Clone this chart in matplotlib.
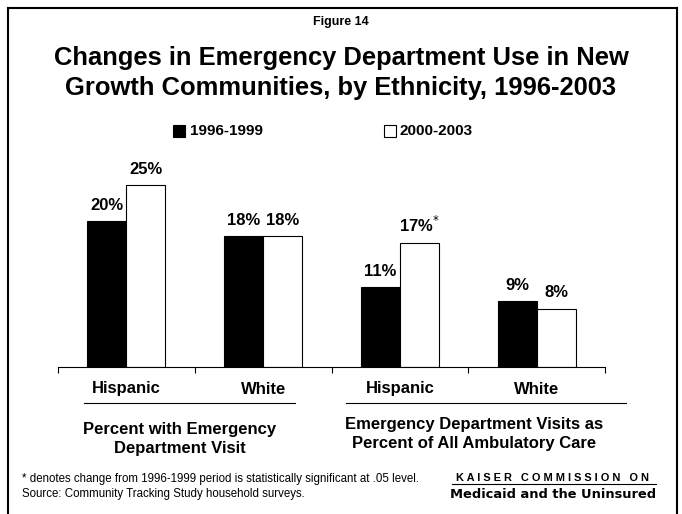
"""Emergency department use by ethnicity, Kaiser figure 14."""

import numpy as np
import matplotlib
matplotlib.use("Agg")
import matplotlib.pyplot as plt
from matplotlib.lines import Line2D
from matplotlib.patches import Rectangle

plt.rcParams["font.family"] = ["Liberation Sans", "DejaVu Sans"]

categories = ["Hispanic", "White", "Hispanic", "White"]
period_1 = [20, 18, 11, 9]
period_2 = [25, 18, 17, 8]
period_2_marks = ["", "", "*", ""]
series_names = ["1996-1999", "2000-2003"]
group_names = ["Percent with Emergency\nDepartment Visit",
               "Emergency Department Visits as\nPercent of All Ambulatory Care"]

W, H = 682, 514
fig = plt.figure(figsize=(W / 100, H / 100), dpi=100)


def fx(px):
    return px / W


def fy(py):
    return 1 - py / H


# slide frame
fig.add_artist(Line2D([fx(8), fx(8)], [fy(8), 0], color="black", lw=1.5))
fig.add_artist(Line2D([fx(8), fx(677)], [fy(8), fy(8)], color="black", lw=1.5))
fig.add_artist(Line2D([fx(677), fx(677)], [fy(8), 0], color="black", lw=1.5))

fig.text(0.5, fy(22), "Figure 14", ha="center", va="center",
         fontsize=9, fontweight="bold")
fig.text(0.5, fy(73), "Changes in Emergency Department Use in New\n"
         "Growth Communities, by Ethnicity, 1996-2003",
         ha="center", va="center", fontsize=18.4, fontweight="bold",
         linespacing=1.27)

# legend
fig.add_artist(Rectangle((fx(173), fy(137)), fx(12), 12 / H,
                         facecolor="black", edgecolor="black", lw=0.8))
fig.text(fx(190), fy(131), series_names[0], va="center",
         fontsize=11, fontweight="bold")
fig.add_artist(Rectangle((fx(384), fy(137)), fx(12), 12 / H,
                         facecolor="white", edgecolor="black", lw=0.8))
fig.text(fx(400), fy(131), series_names[1], va="center",
         fontsize=11, fontweight="bold")

# bars
ax = fig.add_axes([fx(58), fy(367), fx(605 - 58), (367 - 150) / H])
x = np.arange(len(categories))
width = 0.285
b1 = ax.bar(x - width / 2, period_1, width, color="black",
            edgecolor="black", lw=0.8)
b2 = ax.bar(x + width / 2, period_2, width, color="white",
            edgecolor="black", lw=0.8)
ax.set_xlim(-0.5, len(categories) - 0.5)
ax.set_ylim(0, 217 / 7.28)

for rect, v in zip(b1, period_1):
    ax.annotate(f"{v}%", (rect.get_x() + rect.get_width() / 2, v),
                xytext=(0, 6), textcoords="offset points", ha="center",
                va="bottom", fontsize=12, fontweight="bold")
for rect, v, m in zip(b2, period_2, period_2_marks):
    label = f"{v}%" + (r"$^{*}$" if m else "")
    ax.annotate(label, (rect.get_x() + rect.get_width() / 2, v),
                xytext=(0, 6), textcoords="offset points", ha="center",
                va="bottom", fontsize=12, fontweight="bold")

for s in ["top", "right", "left"]:
    ax.spines[s].set_visible(False)
ax.spines["bottom"].set_linewidth(0.8)
ax.set_yticks([])
ax.set_xticks(np.arange(len(categories) + 1) - 0.5)
ax.set_xticklabels([])
ax.tick_params(axis="x", direction="out", length=4, width=0.8)

for xi, name in zip(x, categories):
    ax.text(xi, -22 / 7.28, name, ha="center", va="center",
            fontsize=12, fontweight="bold")

# group underlines and labels
fig.add_artist(Line2D([fx(84), fx(295)], [fy(403), fy(403)],
                      color="black", lw=0.8))
fig.add_artist(Line2D([fx(346), fx(626)], [fy(403), fy(403)],
                      color="black", lw=0.8))
fig.text(fx(180), fy(439), group_names[0], ha="center", va="center",
         fontsize=12, fontweight="bold", linespacing=1.3)
fig.text(fx(474), fy(434), group_names[1], ha="center", va="center",
         fontsize=12, fontweight="bold", linespacing=1.3)

# footer
fig.text(fx(22), fy(479), "* denotes change from 1996-1999 period is "
         "statistically significant at .05 level.", va="center", fontsize=8.3)
fig.text(fx(22), fy(494), "Source: Community Tracking Study household surveys.",
         va="center", fontsize=8.3)
fig.text(fx(553), fy(478), "K A I S E R   C O M M I S S I O N   O N",
         ha="center", va="center", fontsize=7.9, fontweight="bold")
fig.add_artist(Line2D([fx(452), fx(656)], [fy(484), fy(484)],
                      color="black", lw=0.8))
fig.text(fx(553), fy(495), "Medicaid and the Uninsured", ha="center",
         va="center", fontsize=9.4, fontweight="heavy",
         family=["DejaVu Sans"])

fig.savefig("out.png", dpi=100)
